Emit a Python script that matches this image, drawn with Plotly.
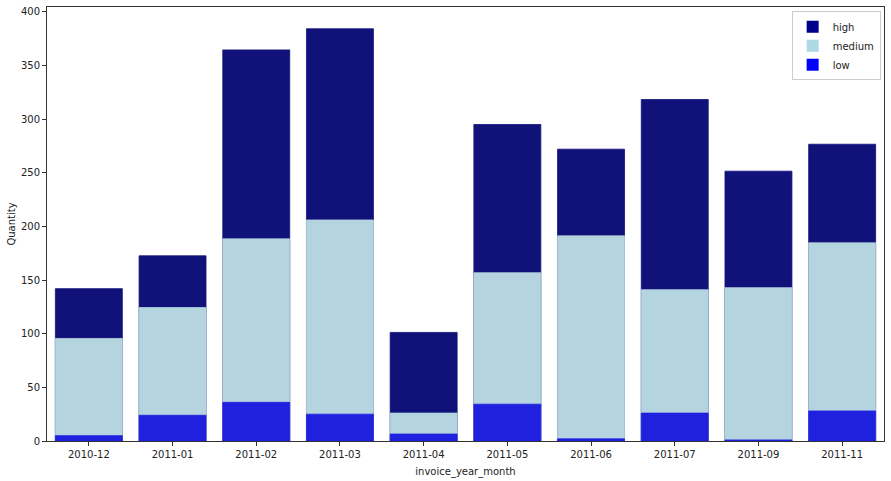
import plotly.graph_objects as go

months = ["2010-12", "2011-01", "2011-02", "2011-03", "2011-04",
          "2011-05", "2011-06", "2011-07", "2011-09", "2011-11"]
high = [142, 172.6, 364.5, 384.2, 101.2, 295, 272, 318.3, 251.5, 276.6]
medium = [95.6, 124.4, 188.4, 206, 26, 156.8, 191.2, 141, 142.9, 184.7]
low = [5, 24, 36, 25, 6.5, 34.3, 2, 26, 1, 28]

series = [
    ("high", high, "#11117A", "#00008B"),
    ("medium", medium, "#B4D4DF", "#ADD8E6"),
    ("low", low, "#2020DF", "#0000FF"),
]

fig = go.Figure()
for name, vals, col, legcol in series:
    fig.add_trace(go.Bar(x=months, y=vals, name=name,
                         marker=dict(color=col, line=dict(width=0.8, color=col)),
                         showlegend=False, hoverinfo="x+y+name"))
for name, vals, col, legcol in series:
    fig.add_trace(go.Bar(x=[months[0]], y=[None], name=name,
                         marker=dict(color=legcol, line=dict(width=0)),
                         showlegend=True, hoverinfo="skip"))

axis_col = "#333333"
title_font = dict(family="DejaVu Sans", size=10, color="#222222")
fig.update_layout(
    width=891, height=481,
    margin=dict(l=47, r=7, t=6, b=39),
    barmode="overlay",
    bargap=0.2,
    plot_bgcolor="white",
    paper_bgcolor="white",
    font=dict(family="DejaVu Sans", size=10, color="#222222"),
    legend=dict(x=0.996, y=0.99, xanchor="right", yanchor="top",
                bordercolor="#cccccc", borderwidth=1, bgcolor="rgba(255,255,255,0.8)",
                font=dict(size=10), tracegroupgap=0, itemwidth=30),
    xaxis=dict(title=dict(text="invoice_year_month", standoff=8, font=title_font), type="category",
               categoryorder="array", categoryarray=months,
               range=[-0.5, len(months) - 0.5],
               showline=True, linecolor=axis_col, linewidth=1, mirror=True,
               ticks="outside", ticklen=4, tickcolor=axis_col, showgrid=False, zeroline=False),
    yaxis=dict(title=dict(text="Quantity", standoff=3, font=title_font), range=[0, 404.5], dtick=50,
               showline=True, linecolor=axis_col, linewidth=1, mirror=True,
               ticks="outside", ticklen=4, tickcolor=axis_col, showgrid=False, zeroline=False),
)

fig.write_html("out.html", config={"displayModeBar": False},
               post_script="document.body.style.margin='0px';")
